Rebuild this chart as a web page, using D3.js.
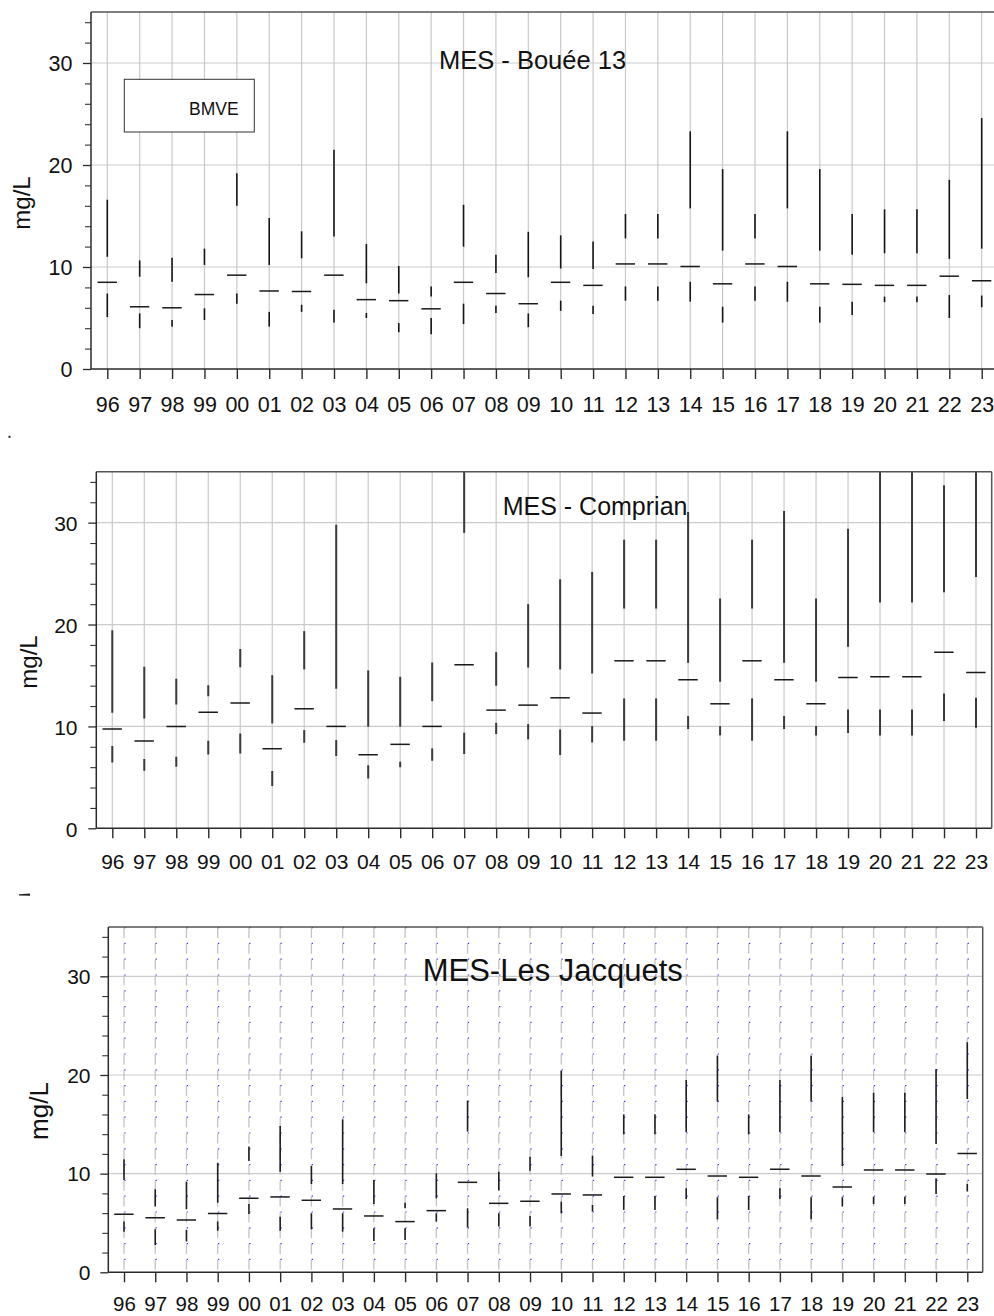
<!DOCTYPE html>
<html>
<head>
<meta charset="utf-8">
<script src="https://cdn.jsdelivr.net/npm/d3@7"></script>
<style>
  html, body { margin: 0; padding: 0; background: #fff; }
  svg { display: block; font-family: "Liberation Sans", Arial, sans-serif; }
</style>
</head>
<body>
<svg id="chart" width="994" height="1316"></svg>
<script>
// ---------- DATA ----------
const years = ["96","97","98","99","00","01","02","03","04","05","06","07","08","09","10","11","12","13","14","15","16","17","18","19","20","21","22","23"];
const yMajorTicks = [0, 10, 20, 30];
const yMinorTicks = [2, 4, 6, 8, 12, 14, 16, 18, 22, 24, 26, 28, 32, 34];

// MES - Bouée 13
const boueeMin = [5.1, 4.0, 4.15, 4.8, 6.4, 4.15, 5.6, 4.55, 5.0, 3.6, 3.4, 4.4, 5.5, 4.1, 5.7, 5.4, 6.7, 6.7, 6.6, 4.55, 6.7, 6.6, 4.55, 5.3, 6.55, 6.55, 5.0, 6.05];
const boueeQ1  = [7.4, 5.45, 4.8, 5.95, 7.4, 5.6, 6.3, 5.8, 5.5, 4.5, 5.0, 6.4, 6.2, 5.45, 6.7, 6.2, 8.1, 8.1, 8.55, 6.1, 8.1, 8.55, 6.1, 6.6, 7.1, 7.1, 7.25, 7.2];
const boueeMed = [8.5, 6.1, 6.0, 7.3, 9.2, 7.65, 7.6, 9.2, 6.8, 6.7, 5.9, 8.5, 7.4, 6.4, 8.5, 8.2, 10.3, 10.3, 10.05, 8.35, 10.3, 10.05, 8.35, 8.3, 8.2, 8.2, 9.1, 8.65];
const boueeQ3  = [11.0, 9.05, 8.55, 10.2, 16.0, 10.2, 10.85, 13.0, 8.4, 7.4, 7.1, 12.0, 9.4, 9.0, 9.85, 9.8, 12.8, 12.8, 15.75, 11.6, 12.8, 15.75, 11.6, 11.2, 11.35, 11.35, 10.8, 11.8];
const boueeMax = [16.6, 10.65, 10.9, 11.8, 19.2, 14.8, 13.5, 21.5, 12.25, 10.1, 8.1, 16.1, 11.2, 13.45, 13.1, 12.5, 15.2, 15.2, 23.3, 19.6, 15.2, 23.3, 19.6, 15.2, 15.65, 15.65, 18.55, 24.6];

// MES - Comprian
const comprianMin = [6.47, 5.65, 6.05, 7.25, 7.35, 4.15, 8.4, 7.09, 4.9, 5.98, 6.63, 7.29, 9.25, 8.73, 7.19, 8.43, 8.59, 8.59, 9.74, 9.12, 8.59, 9.74, 9.12, 9.35, 9.12, 9.12, 10.52, 9.87];
const comprianQ1  = [8.07, 6.8, 7.03, 8.6, 9.3, 5.62, 9.64, 8.66, 6.2, 6.54, 7.84, 9.38, 10.36, 10.23, 9.7, 10.03, 12.75, 12.75, 11.01, 10.03, 12.75, 11.01, 10.03, 11.67, 11.67, 11.67, 13.24, 12.81];
const comprianMed = [9.74, 8.56, 10.0, 11.4, 12.3, 7.81, 11.73, 10.0, 7.22, 8.24, 10.0, 16.05, 11.6, 12.09, 12.81, 11.31, 16.44, 16.44, 14.58, 12.22, 16.44, 14.58, 12.22, 14.8, 14.87, 14.87, 17.29, 15.29];
const comprianQ3  = [11.34, 10.78, 12.16, 12.97, 15.8, 10.3, 15.6, 13.7, 9.97, 9.97, 12.48, 29.0, 13.99, 15.78, 15.59, 15.2, 21.57, 21.57, 16.24, 14.38, 21.57, 16.24, 14.38, 17.81, 22.16, 22.16, 23.17, 24.67];
const comprianMax = [19.44, 15.85, 14.67, 14.05, 17.6, 15.03, 19.35, 29.8, 15.5, 14.87, 16.27, 37, 17.29, 22.0, 24.44, 25.16, 28.33, 28.33, 31.05, 22.55, 28.33, 31.14, 22.55, 29.41, 37, 37, 33.66, 37];

// MES-Les Jacquets
const jacquetsMin = [4.12, 2.77, 3.11, 4.22, 5.91, 4.22, 4.36, 4.12, 3.18, 3.28, 5.14, 4.53, 4.63, 4.63, 5.98, 6.15, 6.32, 6.32, 7.43, 5.37, 6.32, 7.43, 5.37, 6.66, 6.93, 6.93, 7.94, 8.18];
const jacquetsQ1  = [5.14, 4.36, 4.29, 5.14, 6.93, 5.64, 5.98, 5.98, 4.46, 4.46, 5.98, 6.49, 5.98, 5.71, 7.16, 6.82, 7.74, 7.74, 8.51, 7.6, 7.74, 8.51, 7.6, 7.6, 7.67, 7.67, 9.53, 8.95];
const jacquetsMed = [5.88, 5.54, 5.3, 5.95, 7.5, 7.64, 7.3, 6.42, 5.71, 5.14, 6.25, 9.12, 6.99, 7.2, 7.94, 7.84, 9.63, 9.63, 10.44, 9.76, 9.63, 10.44, 9.76, 8.65, 10.37, 10.37, 9.97, 12.03];
const jacquetsQ3  = [9.36, 6.66, 6.39, 7.06, 11.28, 10.2, 8.95, 8.95, 6.93, 6.49, 7.5, 14.26, 8.28, 10.3, 11.79, 9.7, 13.99, 13.99, 14.19, 17.3, 13.99, 14.19, 17.3, 10.78, 14.19, 14.19, 13.0, 17.57];
const jacquetsMax = [11.45, 8.41, 9.19, 11.11, 12.74, 14.83, 10.78, 15.5, 9.36, 7.06, 10.03, 17.4, 10.2, 11.72, 20.44, 11.82, 16.01, 16.01, 19.49, 21.96, 16.01, 19.49, 21.96, 17.8, 18.21, 18.21, 20.61, 23.31];

const titles = ["MES - Bouée 13", "MES - Comprian", "MES-Les Jacquets"];
const yLabel = "mg/L";
const legendLabel = "BMVE";

// ---------- DRAW ----------
const svg = d3.select("#chart");

const panels = [
  { id: "p1", data: [boueeMin, boueeQ1, boueeMed, boueeQ3, boueeMax], title: titles[0],
    left: 91, right: 1000, top: 12, bottom: 369, x0: 107.3, x1: 981.7, rightBorder: false,
    titleX: 439, titleY: 68.5, titleSize: 25.5,
    yLabX: 21, yLabY: 203, yLabSize: 24,
    tickSize: 21.5, yTickX: 72.5, yTickDy: 7.6, xTickY: 411.5,
    whiskerColor: "#151515", whiskerW: 1.6, grid: "solid", legend: true },
  { id: "p2", data: [comprianMin, comprianQ1, comprianMed, comprianQ3, comprianMax], title: titles[1],
    left: 96.3, right: 991.7, top: 471.7, bottom: 828.3, x0: 112.3, x1: 976, rightBorder: true,
    titleX: 502.7, titleY: 515, titleSize: 25,
    yLabX: 28.7, yLabY: 662, yLabSize: 24,
    tickSize: 21, yTickX: 77.5, yTickDy: 7.8, xTickY: 869,
    whiskerColor: "#3a3a3a", whiskerW: 2, grid: "solid", legend: false },
  { id: "p3", data: [jacquetsMin, jacquetsQ1, jacquetsMed, jacquetsQ3, jacquetsMax], title: titles[2],
    left: 108.3, right: 982.7, top: 927, bottom: 1272.3, x0: 124, x1: 967.3, rightBorder: true,
    titleX: 422.7, titleY: 980.7, titleSize: 31,
    yLabX: 39, yLabY: 1111, yLabSize: 26,
    tickSize: 21, yTickX: 90.5, yTickDy: 7.3, xTickY: 1311.2, xTickSize: 20.5,
    whiskerColor: "#1e1e1e", whiskerW: 1.6, grid: "dashed", legend: false }
];

const defs = svg.append("defs");

panels.forEach(p => {
  const [mins, q1s, meds, q3s, maxs] = p.data;
  const x = d3.scalePoint().domain(years).range([p.x0, p.x1]);
  const y = d3.scaleLinear().domain([0, 35]).range([p.bottom, p.top]);
  const g = svg.append("g").attr("class", p.id);

  defs.append("clipPath").attr("id", "clip-" + p.id)
    .append("rect").attr("x", p.left).attr("y", p.top)
    .attr("width", p.right - p.left).attr("height", p.bottom - p.top);

  // horizontal gridlines
  g.append("g").selectAll("line").data(yMajorTicks.filter(t => t > 0)).join("line")
    .attr("x1", p.left).attr("x2", p.right)
    .attr("y1", d => y(d)).attr("y2", d => y(d))
    .attr("stroke", "#cbcbcb").attr("stroke-width", 1.2);

  // vertical gridlines
  if (p.grid === "solid") {
    g.append("g").selectAll("line").data(years).join("line")
      .attr("x1", d => x(d)).attr("x2", d => x(d))
      .attr("y1", p.top).attr("y2", p.bottom)
      .attr("stroke", "#c9c9c9").attr("stroke-width", 1.2);
  } else {
    g.append("g").selectAll("line").data(years).join("line")
      .attr("x1", d => x(d)).attr("x2", d => x(d))
      .attr("y1", p.top).attr("y2", p.bottom)
      .attr("stroke", "#c4c4c4").attr("stroke-width", 1.3)
      .attr("stroke-dasharray", "10,5.8").attr("stroke-dashoffset", -1);
    g.append("g").selectAll("line").data(years).join("line")
      .attr("x1", d => x(d) + 0.9).attr("x2", d => x(d) + 0.9)
      .attr("y1", p.top).attr("y2", p.bottom)
      .attr("stroke", "#3a3aff").attr("stroke-width", 1.3)
      .attr("stroke-dasharray", "1.2,14.6");
  }

  // legend box (panel 1)
  if (p.legend) {
    g.append("rect").attr("x", 124.3).attr("y", 79.3).attr("width", 130).attr("height", 52.7)
      .attr("fill", "#fff").attr("stroke", "#333").attr("stroke-width", 1);
    g.append("text").attr("x", 189).attr("y", 115).attr("font-size", 17.5)
      .attr("fill", "#111").text(legendLabel);
  }

  // title
  g.append("text").attr("x", p.titleX).attr("y", p.titleY)
    .attr("font-size", p.titleSize).attr("fill", "#111").text(p.title);

  // whiskers and medians
  const marks = g.append("g").attr("clip-path", "url(#clip-" + p.id + ")");
  const rows = years.map((yr, i) => ({ yr, mn: mins[i], q1: q1s[i], md: meds[i], q3: q3s[i], mx: maxs[i] }));
  marks.selectAll("line.lo").data(rows).join("line").attr("class", "lo")
    .attr("x1", d => x(d.yr)).attr("x2", d => x(d.yr))
    .attr("y1", d => y(d.mn)).attr("y2", d => y(d.q1))
    .attr("stroke", p.whiskerColor).attr("stroke-width", p.whiskerW);
  marks.selectAll("line.hi").data(rows).join("line").attr("class", "hi")
    .attr("x1", d => x(d.yr)).attr("x2", d => x(d.yr))
    .attr("y1", d => y(d.q3)).attr("y2", d => y(d.mx))
    .attr("stroke", p.whiskerColor).attr("stroke-width", p.whiskerW);
  marks.selectAll("line.md").data(rows).join("line").attr("class", "md")
    .attr("x1", d => x(d.yr) - 9.8).attr("x2", d => x(d.yr) + 9.6)
    .attr("y1", d => y(d.md)).attr("y2", d => y(d.md))
    .attr("stroke", "#1a1a1a").attr("stroke-width", 1.5);

  // frame
  const frame = g.append("g").attr("stroke", "#2a2a2a").attr("stroke-width", 1.5).attr("fill", "none");
  frame.append("line").attr("x1", p.left).attr("x2", p.right).attr("y1", p.top).attr("y2", p.top)
    .attr("stroke", "#555");
  frame.append("line").attr("x1", p.left).attr("x2", p.left).attr("y1", p.top).attr("y2", p.bottom);
  frame.append("line").attr("x1", p.left).attr("x2", p.right).attr("y1", p.bottom).attr("y2", p.bottom);
  if (p.rightBorder) {
    frame.append("line").attr("x1", p.right).attr("x2", p.right).attr("y1", p.top).attr("y2", p.bottom)
      .attr("stroke", "#555");
  }

  // y axis: major ticks with labels
  const yAxis = d3.axisLeft(y).tickValues(yMajorTicks).tickSize(8).tickPadding(0).tickFormat(d3.format("d"));
  const ya = g.append("g").attr("transform", `translate(${p.left},0)`).call(yAxis);
  ya.select(".domain").remove();
  ya.selectAll(".tick line").attr("stroke", "#2a2a2a").attr("stroke-width", 1.3);
  ya.selectAll(".tick text")
    .attr("x", p.yTickX - p.left).attr("dy", null).attr("y", p.yTickDy)
    .attr("text-anchor", "end").attr("font-size", p.tickSize)
    .attr("font-family", "Liberation Sans, Arial, sans-serif").attr("fill", "#111");

  // y axis: minor ticks
  const yMinor = d3.axisLeft(y).tickValues(yMinorTicks).tickSize(6).tickFormat("");
  const ym = g.append("g").attr("transform", `translate(${p.left},0)`).call(yMinor);
  ym.select(".domain").remove();
  ym.selectAll(".tick line").attr("stroke", "#333").attr("stroke-width", 1.1);

  // x axis
  const xAxis = d3.axisBottom(x).tickSize(10).tickPadding(0);
  const xa = g.append("g").attr("transform", `translate(0,${p.bottom})`).call(xAxis);
  xa.select(".domain").remove();
  xa.selectAll(".tick line").attr("stroke", "#2a2a2a").attr("stroke-width", 1.4);
  xa.selectAll(".tick text")
    .attr("y", p.xTickY - p.bottom).attr("dy", null)
    .attr("font-size", p.xTickSize || p.tickSize)
    .attr("font-family", "Liberation Sans, Arial, sans-serif").attr("fill", "#111");

  // y label
  g.append("text")
    .attr("transform", `translate(${p.yLabX},${p.yLabY}) rotate(-90)`)
    .attr("text-anchor", "middle").attr("dominant-baseline", "central")
    .attr("font-size", p.yLabSize).attr("fill", "#111").text(yLabel);
});

// small stray marks present in the source image
svg.append("rect").attr("x", 8.5).attr("y", 435.8).attr("width", 2).attr("height", 2).attr("fill", "#222");
svg.append("path").attr("d", "M19,894.2 L30,893.6 L30,895.8 L19,895.6 Z").attr("fill", "#222");
</script>
</body>
</html>
